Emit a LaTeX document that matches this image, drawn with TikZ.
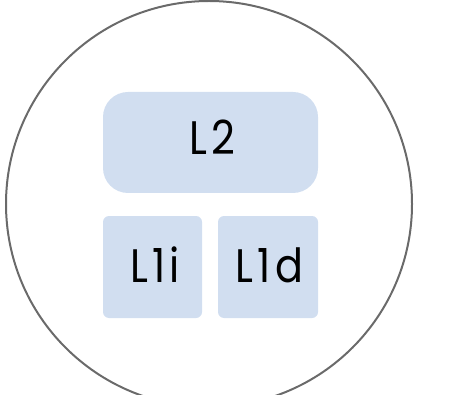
\documentclass[tikz,border=0pt]{standalone}
\usepackage{fontspec}
\newfontfamily\labfont[FakeStretch=0.88,LetterSpace=9]{Poppins}
\definecolor{boxfill}{HTML}{D1DEF0}
\definecolor{ringcol}{HTML}{6A6A6A}
\tikzset{
  cache/.style={fill=boxfill, draw=none, inner sep=0pt, font=\labfont\fontsize{47}{47}\selectfont, text=black},
  lab/.style={anchor=base, inner sep=0pt, font=\labfont\fontsize{47}{47}\selectfont, text=black},
}
\begin{document}
\begin{tikzpicture}[x=1pt,y=-1pt]
\useasboundingbox (0,0) rectangle (465,395);
\clip (0,0) rectangle (465,395);
\draw[ringcol, line width=2pt] (209,204) circle[radius=203];
\node[cache, minimum width=215pt, minimum height=101pt, rounded corners=25pt] (l2) at (210.5,142.5) {};
\node[lab] (t2) at (212,155) {L2};
\node[cache, minimum width=99pt, minimum height=102pt, rounded corners=6pt] (l1i) at (152.5,267) {};
\node[lab] (t1i) at (155,282) {L1i};
\node[cache, minimum width=100pt, minimum height=102pt, rounded corners=6pt] (l1d) at (268,267) {};
\node[lab] (t1d) at (269.5,282) {L1d};
\end{tikzpicture}
\end{document}
